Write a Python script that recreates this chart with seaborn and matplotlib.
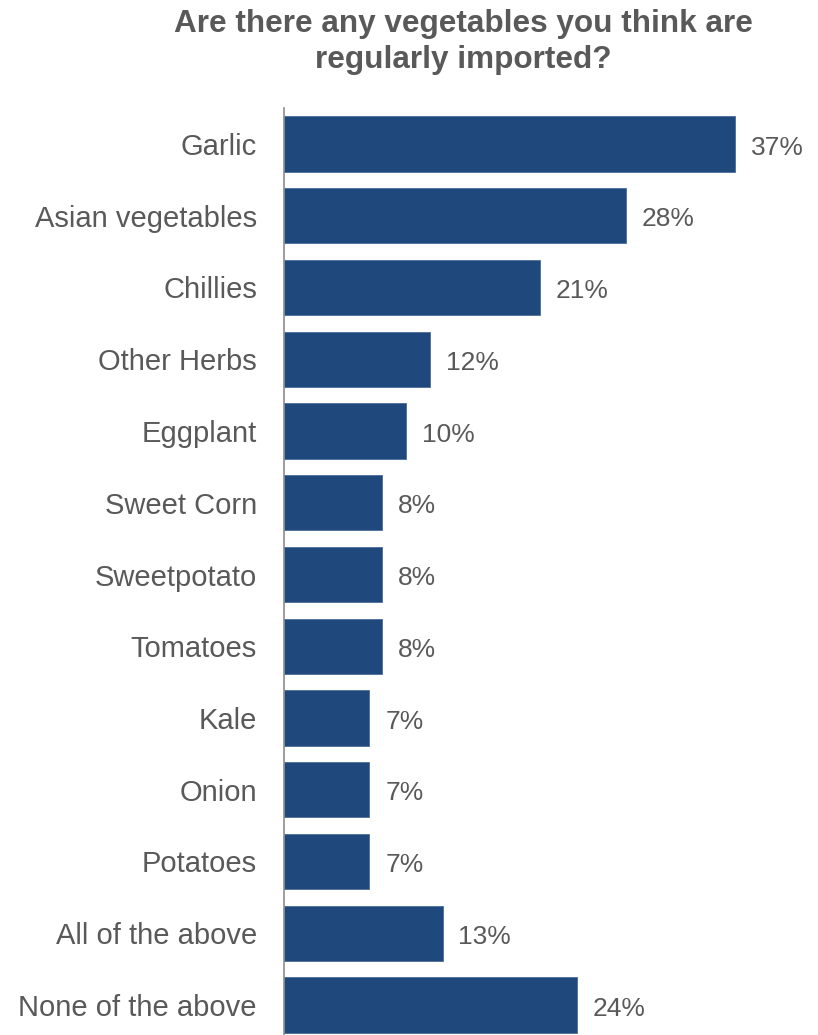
import matplotlib
matplotlib.use("Agg")
import matplotlib.pyplot as plt
import seaborn as sns
import pandas as pd

categories = ["Garlic", "Asian vegetables", "Chillies", "Other Herbs", "Eggplant",
              "Sweet Corn", "Sweetpotato", "Tomatoes", "Kale", "Onion", "Potatoes",
              "All of the above", "None of the above"]
values = [37, 28, 21, 12, 10, 8, 8, 8, 7, 7, 7, 13, 24]
title = "Are there any vegetables you think are\nregularly imported?"

sns.set_theme(style="white")
plt.rcParams['font.family'] = ['Liberation Sans', 'DejaVu Sans']

W, H = 818, 1035
fig = plt.figure(figsize=(W / 100, H / 100), dpi=100)
left_px, right_px, top_px, bot_px = 284, 800, 108, 1035
ax = fig.add_axes([left_px / W, 1 - bot_px / H, (right_px - left_px) / W, (bot_px - top_px) / H])

df = pd.DataFrame({"cat": categories, "val": values})
sns.barplot(data=df, x="val", y="cat", orient="h", color="#1F497C", saturation=1,
            width=0.77, ax=ax, edgecolor="#4A6D9A", linewidth=0.6)

px_per_unit = 12.2
ax.set_xlim(0, (right_px - left_px) / px_per_unit)
spacing = 71.75
ax.set_ylim((bot_px - 144) / spacing, -(144 - top_px) / spacing)

txt = "#595959"
for i, v in enumerate(values):
    ax.text(v + 1.3, i + 0.05, f"{v}%", va="center", ha="left", fontsize=19, color=txt)

ax.set_xlabel("")
ax.set_ylabel("")
ax.set_xticks([])
ax.tick_params(axis="y", length=0, pad=19.5, labelsize=21, labelcolor=txt)
for s in ["top", "right", "bottom"]:
    ax.spines[s].set_visible(False)
ax.spines["left"].set_color("#8C8C8C")
ax.spines["left"].set_linewidth(1.2)

fig.text(463 / W, 1 - 42 / H, title, ha="center", va="center", fontsize=22.7,
         fontweight="bold", color=txt, linespacing=1.27)

fig.savefig("out.png", dpi=100)
